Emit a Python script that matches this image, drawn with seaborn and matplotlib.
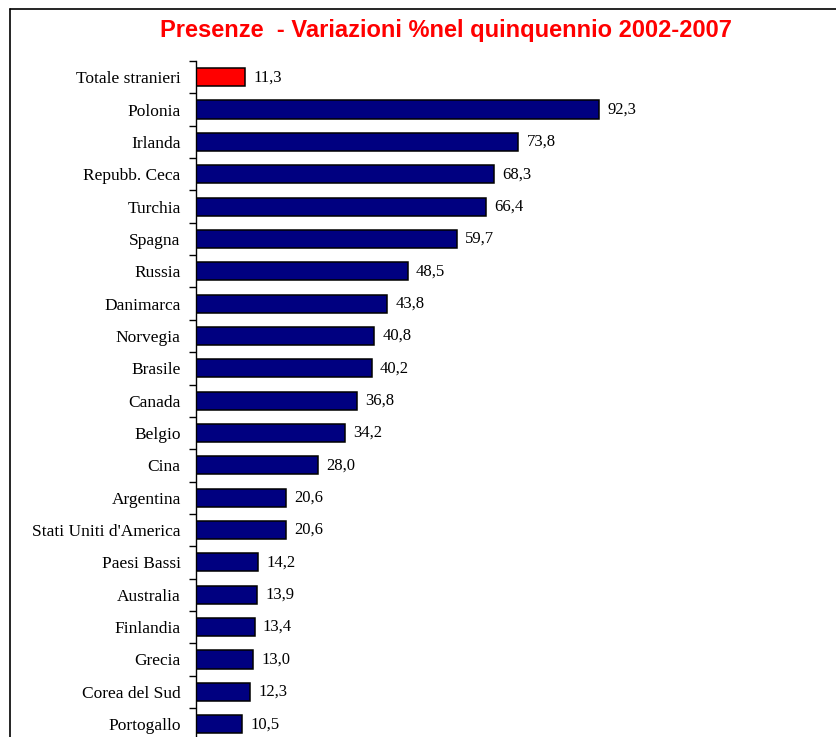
import matplotlib
matplotlib.use("Agg")
import matplotlib.pyplot as plt
from matplotlib.lines import Line2D
import seaborn as sns
import numpy as np

categories = ["Totale stranieri", "Polonia", "Irlanda", "Repubb. Ceca", "Turchia",
              "Spagna", "Russia", "Danimarca", "Norvegia", "Brasile", "Canada",
              "Belgio", "Cina", "Argentina", "Stati Uniti d'America", "Paesi Bassi",
              "Australia", "Finlandia", "Grecia", "Corea del Sud", "Portogallo"]
values = [11.3, 92.3, 73.8, 68.3, 66.4, 59.7, 48.5, 43.8, 40.8, 40.2, 36.8,
          34.2, 28.0, 20.6, 20.6, 14.2, 13.9, 13.4, 13.0, 12.3, 10.5]
bar_colors = ["#FF0000"] + ["#000080"] * (len(categories) - 1)

sns.set_style("white")
plt.rcParams["font.family"] = ["Liberation Serif", "DejaVu Serif"]
plt.rcParams["text.color"] = "black"
plt.rcParams["ytick.labelcolor"] = "black"

W, H = 836, 737
fig = plt.figure(figsize=(W / 100, H / 100), dpi=100)

# axes placed in pixel terms
left, right, top = 196, 836, 61
step = 32.35
bottom = top + step * len(categories)
ax = fig.add_axes([left / W, 1 - bottom / H, (right - left) / W, (bottom - top) / H])

sns.barplot(x=values, y=categories, hue=categories, palette=bar_colors,
            legend=False, edgecolor="black", linewidth=1.1, width=0.56,
            orient="h", ax=ax, saturation=1)

ax.set_xlim(0, (right - left) / 4.366)
ax.set_ylim(len(categories) - 0.5, -0.5)
ax.set_xlabel("")
ax.set_ylabel("")
ax.set_xticks([])

for s in ["top", "right", "bottom"]:
    ax.spines[s].set_visible(False)
ax.spines["left"].set_color("black")
ax.spines["left"].set_linewidth(1.0)

ax.tick_params(axis="y", which="major", left=False, length=0, pad=11,
               labelsize=12.5, labelcolor="black")
ax.set_yticks(np.arange(-0.5, len(categories), 1), minor=True)
ax.tick_params(axis="y", which="minor", left=True, length=5, width=1,
               color="black", direction="out")

for cont in ax.containers:
    labs = [f"{b.get_width():.1f}".replace(".", ",") for b in cont]
    ax.bar_label(cont, labels=labs, padding=6, fontsize=12, color="black",
                 family=["Liberation Serif", "DejaVu Serif"])

fig.text(446 / W, 1 - 30 / H, "Presenze  - Variazioni %nel quinquennio 2002-2007",
         ha="center", va="center", color="#FF0000", fontsize=17, fontweight="bold",
         family=["Liberation Sans", "DejaVu Sans"])

# outer frame (top and left visible)
fig.add_artist(Line2D([10 / W, 1], [1 - 9 / H, 1 - 9 / H], color="black", lw=1.2,
                      transform=fig.transFigure))
fig.add_artist(Line2D([10 / W, 10 / W], [0, 1 - 9 / H], color="black", lw=1.2,
                      transform=fig.transFigure))

fig.savefig("out.png", dpi=100)
